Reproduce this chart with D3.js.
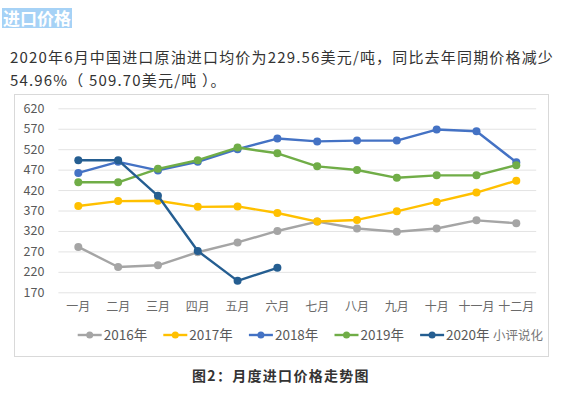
<!DOCTYPE html>
<html><head><meta charset="utf-8">
<script src="https://cdn.jsdelivr.net/npm/d3@7"></script>
<style>
html,body{margin:0;padding:0;background:#fff;}
svg{display:block;font-family:"Noto Sans CJK SC","Noto Sans",sans-serif;}
</style></head>
<body>
<svg id="c" width="568" height="393"></svg>
<script>
const months = ["一月","二月","三月","四月","五月","六月","七月","八月","九月","十月","十一月","十二月"];
const yTicks = [170,220,270,320,370,420,470,520,570,620];
const seriesNames = ["2016年","2017年","2018年","2019年","2020年"];
const seriesColors = ["#A5A5A5","#FFC000","#4472C4","#70AD47","#255E91"];
const v2016 = [281,232,236,268,292,320,343,326,318,326,346,339];
const v2017 = [381,393,394,379,380,364,343,347,368,391,414,443];
const v2018 = [462,489,468,489,520,546,539,541,541,568,564,488];
const v2019 = [439,439,472,493,524,510,478,469,450,456,456,481];
const v2020 = [493,493,406,271,198,230];
const seriesValues = [v2016,v2017,v2018,v2019,v2020];

const svg = d3.select("#c");

// Title with highlight
svg.append("rect").attr("x",2).attr("y",8).attr("width",70).attr("height",20).attr("fill","#a6d2f6");
svg.append("text").attr("x",3).attr("y",24.5).attr("font-size",17).attr("font-weight","bold")
  .attr("fill","#fff").text("进口价格");

// Paragraph
const p1 = svg.append("text").attr("x",10).attr("y",63).attr("font-size",15).attr("fill","#333")
  .text("2020年6月中国进口原油进口均价为229.56美元/吨，同比去年同期价格减少");
const p2 = svg.append("text").attr("x",10).attr("y",86).attr("font-size",15).attr("fill","#333")
  .text("54.96%（ 509.70美元/吨 ）。");
const w1 = p1.node().getComputedTextLength();
const n1 = p1.text().length;
const ls = Math.max(0,(544 - w1)/n1);
p1.attr("letter-spacing", ls);
p2.attr("letter-spacing", ls);

// Frame
svg.append("rect").attr("x",14.5).attr("y",94.5).attr("width",534).attr("height",262)
  .attr("fill","#fff").attr("stroke","#d9d9d9");

const x = d3.scaleBand().domain(months).range([58.4,536.2]);
const y = d3.scaleLinear().domain([170,620]).range([292.3,108.3]);
const cx = m => x(m) + x.bandwidth()/2;

// grid
const yAxis = d3.axisLeft(y).tickValues(yTicks).tickSize(-(536.2-58.4)).tickPadding(14);
const gy = svg.append("g").attr("transform","translate(58.4,0)").call(yAxis);
gy.select(".domain").remove();
gy.selectAll(".tick line").attr("stroke","#e3e3e3");
gy.selectAll(".tick text").attr("fill","#595959").attr("font-size",12.5)
  .attr("font-family","'Noto Sans CJK SC','Noto Sans',sans-serif");

const xAxis = d3.axisBottom(x).tickSize(0).tickPadding(10);
const gx = svg.append("g").attr("transform","translate(0,292.3)").call(xAxis);
gx.select(".domain").remove();
gx.selectAll(".tick text").attr("fill","#6a6a6a").attr("font-size",12)
  .attr("font-family","'Noto Sans CJK SC','Noto Sans',sans-serif");

// lines
const line = d3.line().x((d,i)=>cx(months[i])).y(d=>y(d));
seriesValues.forEach((vals,si)=>{
  const g = svg.append("g");
  g.append("path").datum(vals).attr("d",line).attr("fill","none")
    .attr("stroke",seriesColors[si]).attr("stroke-width",2.4).attr("stroke-linejoin","round");
  g.selectAll("circle").data(vals).join("circle")
    .attr("cx",(d,i)=>cx(months[i])).attr("cy",d=>y(d)).attr("r",4)
    .attr("fill",seriesColors[si]);
});

// legend
const lg = svg.append("g");
seriesNames.forEach((nm,i)=>{
  const x0 = 77.7 + i*85.6, yy = 335;
  lg.append("line").attr("x1",x0).attr("x2",x0+24).attr("y1",yy).attr("y2",yy)
    .attr("stroke",seriesColors[i]).attr("stroke-width",2.4);
  lg.append("circle").attr("cx",x0+12).attr("cy",yy).attr("r",3.5).attr("fill",seriesColors[i]);
  lg.append("text").attr("x",x0+26).attr("y",yy+4.8).attr("font-size",13.5).attr("fill","#595959").text(nm);
});

// watermark
svg.append("text").attr("x",493).attr("y",339.5).attr("font-size",12.5).attr("fill","#777")
  .text("小评说化");

// caption
svg.append("text").attr("x",281).attr("y",381).attr("text-anchor","middle").attr("font-size",14)
  .attr("font-weight","bold").attr("fill","#333").attr("letter-spacing",1.3).text("图2：月度进口价格走势图");
</script>
</body></html>
